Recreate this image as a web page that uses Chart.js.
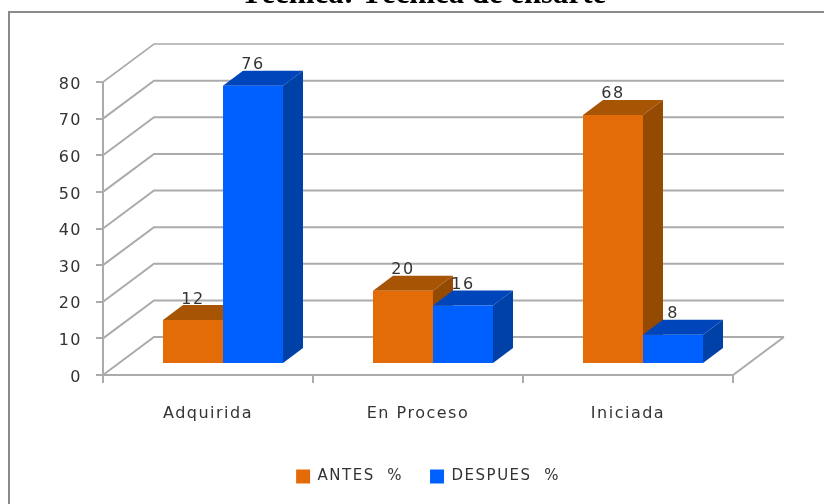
<!DOCTYPE html>
<html><head><meta charset="utf-8">
<style>html,body{margin:0;padding:0;background:#fff;overflow:hidden}canvas{display:block}</style>
<script src="https://cdn.jsdelivr.net/npm/chart.js@4"></script>
</head><body><div style="width:824px;height:504px"><canvas id="c" width="824" height="504"></canvas></div>
<script>
const titleText = "Técnica: Técnica de ensarte";
const categories = ["Adquirida", "En Proceso", "Iniciada"];
const antes = [12, 20, 68];
const despues = [76, 16, 8];
const seriesNames = ["ANTES  %", "DESPUES  %"];
const yTicks = [0, 10, 20, 30, 40, 50, 60, 70, 80];

const FONT = '"DejaVu Sans"';
const GRID = '#ababab';
const wall = {dx: 51, dy: -38};
const barShift = {dx: 15, dy: -11};
const depth = {dx: 20, dy: -15};
const shades = [{top: '#a85405', side: '#954a04'}, {top: '#0045b9', side: '#0041a8'}];

function strokePath(ctx, pts, color, w) {
  ctx.beginPath();
  ctx.moveTo(pts[0][0], pts[0][1]);
  for (let i = 1; i < pts.length; i++) ctx.lineTo(pts[i][0], pts[i][1]);
  ctx.strokeStyle = color; ctx.lineWidth = w; ctx.stroke();
}
function poly(ctx, pts, color) {
  ctx.beginPath();
  ctx.moveTo(pts[0][0], pts[0][1]);
  for (let i = 1; i < pts.length; i++) ctx.lineTo(pts[i][0], pts[i][1]);
  ctx.closePath(); ctx.fillStyle = color; ctx.fill();
}
const threeD = {
  id: 'threeD',
  afterLayout(chart) {
    const l = chart.legend;
    const dx = 48;
    l.left += dx; l.right += dx;
    const h = l.height;
    l.top = 468 - h / 2; l.bottom = l.top + h;
  },
  beforeDraw(chart) {
    chart.ctx.letterSpacing = '1.5px';
  },
  afterDraw(chart) {
    const ctx = chart.ctx;
    ctx.save();
    ctx.fillStyle = '#8a8a8a';
    ctx.fillRect(8, 11, 816, 2);
    ctx.fillRect(8, 11, 2, 493);
    ctx.restore();
  },
  beforeDatasetsDraw(chart) {
    const ctx = chart.ctx, y = chart.scales.y, a = chart.chartArea;
    ctx.save();
    ctx.letterSpacing = '0px';
    ctx.fillStyle = '#000';
    ctx.font = 'bold 30.8px "Liberation Serif"';
    ctx.textAlign = 'center'; ctx.textBaseline = 'alphabetic';
    ctx.fillText(titleText, 423.5, 3);
    ctx.letterSpacing = '1.5px';
    yTicks.forEach(v => {
      const py = y.getPixelForValue(v);
      strokePath(ctx, [[a.left, py], [a.left + wall.dx, py + wall.dy], [a.right + wall.dx, py + wall.dy]], GRID, v === 80 ? 1.6 : 2);
    });
    const by = y.getPixelForValue(0);
    strokePath(ctx, [[a.left, by], [a.right, by], [a.right + wall.dx, by + wall.dy]], GRID, 2);
    ctx.restore();
    [0, 1].forEach(i => {
      const meta = chart.getDatasetMeta(i);
      ctx.save();
      ctx.translate(barShift.dx, barShift.dy);
      meta.data.forEach(b => {
        const l = b.x - b.width / 2, r = b.x + b.width / 2, t = b.y, bo = b.base;
        poly(ctx, [[l, t], [r, t], [r + depth.dx, t + depth.dy], [l + depth.dx, t + depth.dy]], shades[i].top);
        poly(ctx, [[r, t], [r + depth.dx, t + depth.dy], [r + depth.dx, bo + depth.dy], [r, bo]], shades[i].side);
      });
      meta.controller.draw();
      ctx.restore();
    });
    ctx.save();
    ctx.font = '16px ' + FONT; ctx.fillStyle = '#333';
    ctx.textAlign = 'center'; ctx.textBaseline = 'alphabetic';
    [0, 1].forEach(i => {
      const vals = chart.data.datasets[i].data;
      chart.getDatasetMeta(i).data.forEach((b, k) => {
        ctx.fillText(String(vals[k]), b.x + barShift.dx, b.y + barShift.dy + depth.dy - 1.5);
      });
    });
    ctx.restore();
    return false;
  }
};
new Chart(document.getElementById('c'), {
  type: 'bar',
  data: {
    labels: categories,
    datasets: [
      {label: seriesNames[0], data: antes, backgroundColor: '#e36c09', borderWidth: 0},
      {label: seriesNames[1], data: despues, backgroundColor: '#0060ff', borderWidth: 0}
    ]
  },
  plugins: [threeD],
  options: {
    responsive: false, animation: false, devicePixelRatio: 1,
    layout: {padding: {left: 0, right: 91, top: 82, bottom: 0}},
    datasets: {bar: {barPercentage: 1, categoryPercentage: 120 / 210}},
    scales: {
      x: {
        afterFit(s) { s.height = 504 - 375 - s.chart.legend.height; },
        grid: {drawOnChartArea: false, color: GRID, tickLength: 8, lineWidth: 2},
        border: {color: GRID, width: 2},
        ticks: {padding: 21, color: '#333', font: {family: FONT, size: 16}, maxRotation: 0}
      },
      y: {
        min: 0, max: 80,
        afterFit(s) { s.width = 103; },
        afterBuildTicks(s) { s.ticks = yTicks.map(v => ({value: v})); },
        grid: {drawOnChartArea: false, color: GRID, tickLength: 7, lineWidth: 2},
        border: {color: GRID, width: 2},
        ticks: {padding: 14, color: '#333', labelOffset: 2.5, font: {family: FONT, size: 16}}
      }
    },
    plugins: {
      tooltip: {enabled: false},
      title: {display: false},
      legend: {
        position: 'bottom',
        labels: {boxWidth: 14, boxHeight: 14, padding: 27, color: '#333', font: {family: FONT, size: 15}}
      }
    }
  }
});
</script></body></html>
